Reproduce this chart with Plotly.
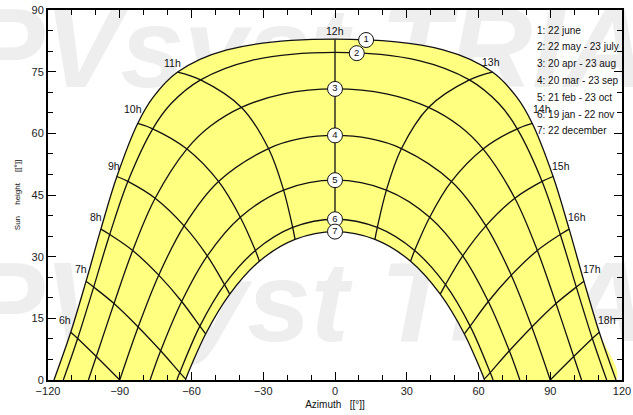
import plotly.graph_objects as go

# Sun path, solar time, azimuth from south (negative = east), height in degrees.
# Each date curve runs from sunrise to sunset; tags name the hour of each point.
tags_long = ["rise", "6h", "7h", "8h", "9h", "10h", "10h30", "11h", "11h30", "12h",
             "12h30", "13h", "13h30", "14h", "15h", "16h", "17h", "18h", "set"]
tags_equinox = ["6h", "7h", "8h", "9h", "10h", "11h", "11h30", "12h", "12h30", "13h",
                "14h", "15h", "16h", "17h", "18h"]
tags_short = ["rise", "7h", "8h", "9h", "10h", "11h", "12h", "13h", "14h", "15h",
              "16h", "17h", "set"]

d1_az = [-117.5, -110.5, -104.1, -97.9, -91.2, -82.5, -76.0, -65.8, -45.2, 0,
         45.2, 65.8, 76.0, 82.5, 91.2, 97.9, 104.1, 110.5, 117.5]
d1_el = [0, 11.6, 24.0, 36.7, 49.5, 62.4, 68.8, 74.9, 80.3, 82.9,
         80.3, 74.9, 68.8, 62.4, 49.5, 36.7, 24.0, 11.6, 0]

d2_az = [-113.6, -107.6, -100.9, -94.2, -86.6, -76.2, -68.4, -56.2, -35.1, 0,
         35.1, 56.2, 68.4, 76.2, 86.6, 94.2, 100.9, 107.6, 113.6]
d2_el = [0, 10.1, 22.6, 35.4, 48.3, 61.1, 67.3, 73.0, 77.7, 79.7,
         77.7, 73.0, 67.3, 61.1, 48.3, 35.4, 22.6, 10.1, 0]

d3_az = [-103.1, -99.8, -92.4, -84.6, -75.2, -61.9, -52.2, -39.1, -21.5, 0,
         21.5, 39.1, 52.2, 61.9, 75.2, 84.6, 92.4, 99.8, 103.1]
d3_el = [0, 5.7, 18.6, 31.5, 44.2, 56.2, 61.7, 66.3, 69.6, 70.8,
         69.6, 66.3, 61.7, 56.2, 44.2, 31.5, 18.6, 5.7, 0]

d4_az = [-90, -82.3, -73.7, -63.1, -48.7, -27.8, -14.6, 0, 14.6, 27.8,
         48.7, 63.1, 73.7, 82.3, 90]
d4_el = [0, 12.9, 25.5, 37.5, 48.3, 56.3, 58.7, 59.5, 58.7, 56.3,
         48.3, 37.5, 25.5, 12.9, 0]

d5_az = [-77.3, -72.9, -64.1, -53.4, -39.6, -21.5, 0, 21.5, 39.6, 53.4, 64.1, 72.9, 77.3]
d5_el = [0, 7.1, 19.1, 30.2, 39.6, 46.2, 48.6, 46.2, 39.6, 30.2, 19.1, 7.1, 0]

d6_az = [-66.1, -64.9, -56.5, -46.2, -33.3, -17.7, 0, 17.7, 33.3, 46.2, 56.5, 64.9, 66.1]
d6_el = [0, 1.8, 13.1, 23.2, 31.5, 37.1, 39.1, 37.1, 31.5, 23.2, 13.1, 1.8, 0]

d7_az = [-62.5, -62.4, -54.1, -44.0, -31.6, -16.7, 0, 16.7, 31.6, 44.0, 54.1, 62.4, 62.5]
d7_el = [0, 0.2, 11.2, 20.9, 28.9, 34.2, 36.1, 34.2, 28.9, 20.9, 11.2, 0.2, 0]

date_labels = ["1: 22 june", "2: 22 may - 23 july", "3: 20 apr - 23 aug",
               "4: 20 mar - 23 sep", "5: 21 feb - 23 oct", "6: 19 jan - 22 nov",
               "7: 22 december"]
hour_labels = ["6h", "7h", "8h", "9h", "10h", "11h", "12h",
               "13h", "14h", "15h", "16h", "17h", "18h"]

# numbered date markers
badge_text = ["1", "2", "3", "4", "5", "6", "7"]
badge_az = [13.0, 9.1, 0, 0, 0, 0, 0]
badge_el = [82.7, 79.5, 70.8, 59.5, 48.6, 39.1, 36.1]

watermark = "PVsyst TRIAL"

x_ticks = [-120, -90, -60, -30, 0, 30, 60, 90, 120]
y_ticks = [0, 15, 30, 45, 60, 75, 90]

dates = [
    (tags_long, d1_az, d1_el),
    (tags_long, d2_az, d2_el),
    (tags_long, d3_az, d3_el),
    (tags_equinox, d4_az, d4_el),
    (tags_short, d5_az, d5_el),
    (tags_short, d6_az, d6_el),
    (tags_short, d7_az, d7_el),
]

FONT = "Liberation Sans, Arial, sans-serif"
INK = "#111111"
FILL = "#ffff80"

fig = go.Figure()

# background watermark, drawn first so the diagram covers it
for wy in (78.1, 16.4):
    fig.add_trace(go.Scatter(
        x=[3.0], y=[wy], mode="text", text=[watermark],
        textposition="middle center", cliponaxis=False, hoverinfo="skip",
        textfont=dict(family=FONT, size=114, color="#eeeeee",
                      weight="bold", style="italic"),
        showlegend=False))

# yellow band between the summer and winter solstice paths
fig.add_trace(go.Scatter(
    x=d1_az + d7_az[::-1], y=d1_el + d7_el[::-1],
    mode="lines", fill="toself", fillcolor=FILL,
    line=dict(color="rgba(0,0,0,0)", width=0, shape="spline"),
    hoverinfo="skip", showlegend=False))

# hour lines across the dates
for h in hour_labels:
    hx, hy = [], []
    for tg, az, el in dates:
        if h in tg:
            i = tg.index(h)
            hx.append(az[i])
            hy.append(el[i])
    fig.add_trace(go.Scatter(
        x=hx, y=hy, mode="lines",
        line=dict(color=INK, width=1.3, shape="spline"),
        hoverinfo="skip", showlegend=False))

# date curves
for tg, az, el in dates:
    fig.add_trace(go.Scatter(
        x=az, y=el, mode="lines",
        line=dict(color=INK, width=1.3, shape="spline"),
        hoverinfo="skip", showlegend=False))

# numbered badges
fig.add_trace(go.Scatter(
    x=badge_az, y=badge_el, mode="markers+text", text=badge_text,
    textposition="middle center",
    marker=dict(size=15, color="white", line=dict(color=INK, width=1)),
    textfont=dict(family=FONT, size=9.5, color=INK),
    hoverinfo="skip", showlegend=False))

# hour labels at the summer solstice end of each hour line
label_shift = {
    "6h": (2, 12), "7h": (3, 12), "8h": (3, 12), "9h": (5, 11), "10h": (6, 14),
    "11h": (5, 9), "12h": (0, 8), "13h": (-12, 10), "14h": (-1, 14),
    "15h": (-3, 11), "16h": (-3, 12), "17h": (-3, 12), "18h": (-3, 12),
}
tg1 = dates[0][0]
for h in hour_labels:
    i = tg1.index(h)
    ax_, el_ = d1_az[i], d1_el[i]
    xa = "right" if ax_ < 0 else ("left" if ax_ > 0 else "center")
    xs, ys = label_shift[h]
    fig.add_annotation(x=ax_, y=el_, text=h, showarrow=False,
                       xanchor=xa, yanchor="middle", xshift=xs, yshift=ys,
                       font=dict(family=FONT, size=10.5, color=INK))

# date key
for k, lab in enumerate(date_labels):
    fig.add_annotation(xref="paper", yref="paper", x=0.8476, y=(350 - k * 16.8) / 370,
                       text=lab, showarrow=False, xanchor="left", yanchor="middle",
                       font=dict(family=FONT, size=10, color=INK))

axis_common = dict(
    showline=True, linecolor="black", linewidth=2, mirror="ticks",
    ticks="inside", ticklen=8, tickwidth=1, tickcolor="black",
    showgrid=False, zeroline=False, automargin=False,
    tickfont=dict(family=FONT, size=11, color="#222222"),
)

fig.update_xaxes(range=[-120, 120], tickvals=x_ticks,
                 minor=dict(ticks="inside", ticklen=5, dtick=10, tick0=0,
                            tickcolor="black", showgrid=False),
                 title=dict(text="Azimuth\u00a0\u00a0 [[°]]", standoff=5,
                            font=dict(family=FONT, size=10, color=INK)),
                 **axis_common)
fig.update_yaxes(range=[0, 90], tickvals=y_ticks,
                 minor=dict(ticks="inside", ticklen=5, dtick=5, tick0=0,
                            tickcolor="black", showgrid=False),
                 title=dict(text="Sun\u00a0\u00a0\u00a0\u00a0 height\u00a0\u00a0\u00a0\u00a0 [[°]]",
                            standoff=10, font=dict(family=FONT, size=8, color=INK)),
                 **axis_common)

fig.update_layout(
    width=633, height=415,
    margin=dict(l=48, r=11, t=10, b=35, autoexpand=False),
    paper_bgcolor="white", plot_bgcolor="white",
    showlegend=False,
)

fig.write_html("out.html")
